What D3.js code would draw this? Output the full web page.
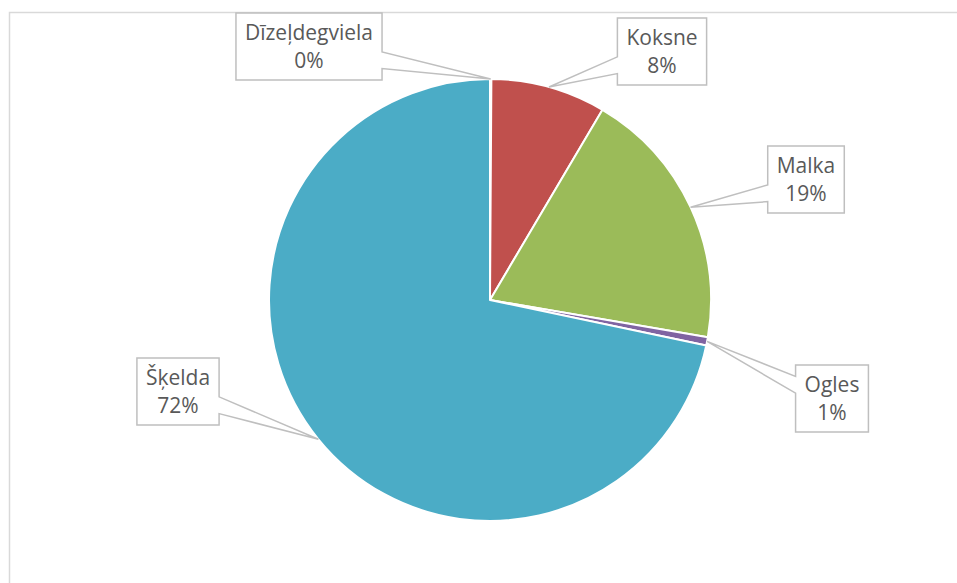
<!DOCTYPE html>
<html>
<head>
<meta charset="utf-8">
<script src="https://cdn.jsdelivr.net/npm/d3@7"></script>
<style>
  html, body { margin: 0; padding: 0; background: #fff; overflow: hidden; }
  text { font-family: "Open Sans", "Liberation Sans", sans-serif; }
</style>
</head>
<body>
<div id="chart"></div>
<script>
var categories = ["Dīzeļdegviela", "Koksne", "Malka", "Ogles", "Šķelda"],
    shares = [0.1, 8.4, 19.2, 0.6, 71.7],
    colors = ["#4F81BD", "#C0504D", "#9BBB59", "#8064A2", "#4BACC6"];

// where each callout box sits (centre x, top y)
var labelBoxes = [
    {cx: 309, top: 13},
    {cx: 662, top: 18},
    {cx: 806, top: 146},
    {cx: 832, top: 365},
    {cx: 178, top: 358}
];

(function() {
    "use strict";

    var width = 957, height = 583,
        cx = 490, cy = 300, radius = 221,
        boxH = 67, padX = 9,

        svg = d3.select("#chart")
            .append("svg")
            .attr("width", width)
            .attr("height", height);

    // chart area border
    svg.append("rect")
        .attr("x", 9.5).attr("y", 12.5)
        .attr("width", 1200).attr("height", 1200)
        .attr("fill", "none")
        .attr("stroke", "#d9d9d9")
        .attr("stroke-width", 1.5);

    var total = d3.sum(shares),
        data = categories.map(function(c, i) {
            return {name: c, value: shares[i], color: colors[i], box: labelBoxes[i]};
        }),
        pie = d3.pie().sort(null).value(function(d) { return d.value; }),
        arc = d3.arc().innerRadius(0).outerRadius(radius),
        pct = d3.format(".0%"),
        arcs = pie(data);

    var g = svg.append("g").attr("transform", "translate(" + cx + "," + cy + ")");

    g.selectAll("path.slice")
        .data(arcs)
        .enter().append("path")
        .attr("class", "slice")
        .attr("d", arc)
        .attr("fill", function(d) { return d.data.color; })
        .attr("stroke", "#fff")
        .attr("stroke-width", 2)
        .attr("stroke-linejoin", "round");

    var labels = svg.append("g");

    arcs.forEach(function(a) {
        var mid = (a.startAngle + a.endAngle) / 2,
            ax = cx + Math.sin(mid) * radius,
            ay = cy - Math.cos(mid) * radius,
            b = a.data.box,
            lg = labels.append("g");

        var path = lg.append("path");

        var t1 = lg.append("text")
            .attr("x", b.cx).attr("y", b.top + 27)
            .attr("text-anchor", "middle")
            .attr("font-size", 21)
            .attr("fill", "#595959")
            .text(a.data.name);
        lg.append("text")
            .attr("x", b.cx).attr("y", b.top + 55)
            .attr("text-anchor", "middle")
            .attr("font-size", 21)
            .attr("fill", "#595959")
            .text(pct(a.data.value / total));

        var w = t1.node().getComputedTextLength() + padX * 2,
            x0 = b.cx - w / 2, x1 = b.cx + w / 2,
            y0 = b.top, y1 = b.top + boxH,
            below = ay > (y0 + y1) / 2,
            p1 = y0 + boxH * (below ? 0.58 : 0.17),
            p2 = y0 + boxH * (below ? 0.83 : 0.42),
            p = d3.path();

        p.moveTo(x0, y0);
        p.lineTo(x1, y0);
        if (ax > x1) {
            p.lineTo(x1, p1); p.lineTo(ax, ay); p.lineTo(x1, p2);
        }
        p.lineTo(x1, y1);
        p.lineTo(x0, y1);
        if (ax < x0) {
            p.lineTo(x0, p2); p.lineTo(ax, ay); p.lineTo(x0, p1);
        }
        p.closePath();

        path.attr("d", p.toString())
            .attr("fill", "#fff")
            .attr("stroke", "#bfbfbf")
            .attr("stroke-width", 1.5)
            .attr("stroke-linejoin", "miter");
    });
})();
</script>
</body>
</html>
